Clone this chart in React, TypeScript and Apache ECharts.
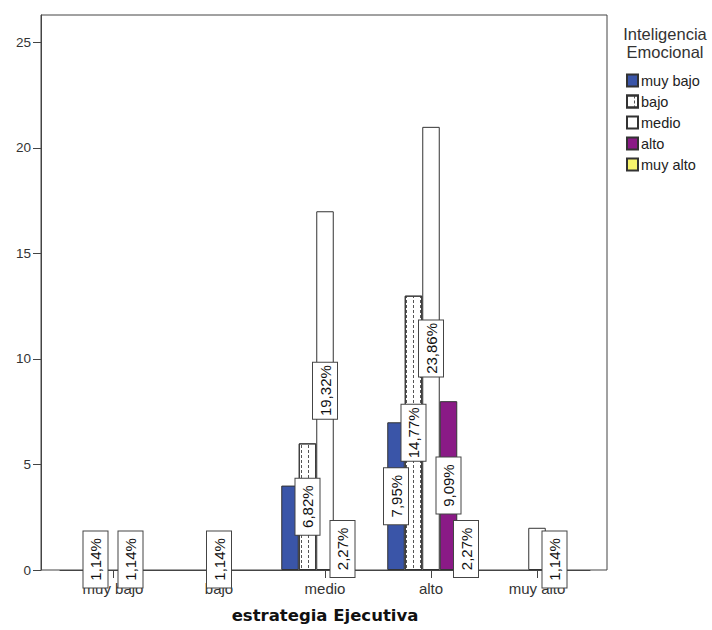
import React, { useEffect, useRef } from "react";
import * as echarts from "echarts";

const categories = ["muy bajo", "bajo", "medio", "alto", "muy alto"];
const seriesNames = ["muy bajo", "bajo", "medio", "alto", "muy alto"];

const muyBajoVals = [null, null, 4, 7, null];
const bajoVals = [1, null, 6, 13, null];
const medioVals = [null, 1, 17, 21, 2];
const altoVals = [1, null, 2, 8, 1];
const muyAltoVals = [null, null, null, 2, null];

const muyBajoLbl = [null, null, null, "7,95%", null];
const bajoLbl = ["1,14%", null, "6,82%", "14,77%", null];
const medioLbl = [null, "1,14%", "19,32%", "23,86%", null];
const altoLbl = ["1,14%", null, "2,27%", "9,09%", "1,14%"];
const muyAltoLbl = [null, null, null, "2,27%", null];

const yTicks = [0, 5, 10, 15, 20, 25];

const FONT = "'Liberation Sans', Arial, sans-serif";

export default function App() {
  const ref = useRef<HTMLDivElement>(null);
  useEffect(() => {
    if (!ref.current) return;
    const chart = echarts.init(ref.current, null, { renderer: "svg" });

    const vals = [muyBajoVals, bajoVals, medioVals, altoVals, muyAltoVals];
    const lbls = [muyBajoLbl, bajoLbl, medioLbl, altoLbl, muyAltoLbl];
    const colors = ["#3a55a8", "#ffffff", "#ffffff", "#8a1a86", "#f7f46c"];

    const labelBase = {
      position: "inside",
      rotate: 90,
      backgroundColor: "#ffffff",
      borderColor: "#444",
      borderWidth: 1,
      padding: [3, 2],
      width: 52,
      height: 18,
      lineHeight: 18,
      fontSize: 15,
      fontFamily: FONT,
      color: "#111",
      align: "center",
      verticalAlign: "middle",
    };

    const series = seriesNames.map((name, si) => {
      const itemStyle: any = {
        color: colors[si],
        borderColor: "#333",
        borderWidth: 1,
      };
      if (si === 1) {
        itemStyle.decal = {
          symbol: "rect",
          symbolSize: 1,
          color: "#555",
          backgroundColor: "#ffffff",
          dashArrayX: [1, 6],
          dashArrayY: [3, 2],
          rotation: 0,
        };
      }
      return {
        name,
        type: "bar",
        xAxisIndex: 0,
        yAxisIndex: 0,
        barWidth: 17.5,
        barGap: "0%",
        itemStyle,
        label: { ...labelBase, show: false },
        data: vals[si].map((v, i) =>
          v == null
            ? "-"
            : {
                value: v,
                label: lbls[si][i]
                  ? { ...labelBase, show: true, formatter: lbls[si][i] }
                  : { show: false },
              }
        ),
      };
    });

    chart.setOption({
      animation: false,
      backgroundColor: "#ffffff",
      grid: [
        { left: 60, width: 530, top: 15, bottom: 60 },
        {
          left: 41,
          right: 105,
          top: 15,
          bottom: 60,
          show: true,
          borderColor: "#444",
          borderWidth: 1,
          backgroundColor: "transparent",
        },
      ],
      xAxis: [
        {
          gridIndex: 0,
          type: "category",
          data: categories,
          axisLine: { show: true, lineStyle: { color: "#444" } },
          axisTick: {
            show: true,
            alignWithLabel: true,
            length: 8,
            interval: 0,
            lineStyle: { color: "#444" },
          },
          axisLabel: {
            interval: 0,
            margin: 11,
            fontSize: 15,
            fontFamily: FONT,
            color: "#333",
          },
          name: "estrategia Ejecutiva",
          nameLocation: "middle",
          nameGap: 37,
          nameTextStyle: {
            fontSize: 16.5,
            fontWeight: "bold",
            fontFamily: "'DejaVu Sans', sans-serif",
            color: "#111",
          },
        },
        { gridIndex: 1, type: "value", show: false, min: 0, max: 1 },
      ],
      yAxis: [
        { gridIndex: 0, type: "value", min: 0, max: 26.3, show: false },
        {
          gridIndex: 1,
          type: "value",
          min: 0,
          max: 26.3,
          interval: 5,
          axisLine: { show: true, lineStyle: { color: "#444" } },
          axisTick: {
            show: true,
            length: 8,
            customValues: yTicks,
            lineStyle: { color: "#444" },
          },
          axisLabel: {
            customValues: yTicks,
            margin: 10,
            fontSize: 13.5,
            fontFamily: FONT,
            color: "#333",
          },
          splitLine: { show: false },
        },
      ],
      legend: {
        orient: "vertical",
        left: 626,
        top: 73,
        padding: 0,
        itemWidth: 11,
        itemHeight: 12,
        itemGap: 6,
        data: seriesNames,
        textStyle: {
          fontSize: 14.5,
          fontFamily: FONT,
          color: "#222",
          padding: [0, 0, 0, -2],
        },
        icon: "rect",
      },
      graphic: [
        {
          type: "text",
          x: 665,
          y: 25,
          style: {
            text: "Inteligencia\nEmocional",
            textAlign: "center",
            fontSize: 16.5,
            lineHeight: 18,
            fontFamily: FONT,
            fill: "#333",
          },
        },
      ],
      series,
    });

    return () => chart.dispose();
  }, []);

  return (
    <div
      ref={ref}
      style={{ position: "fixed", left: 0, top: 0, width: 712, height: 630 }}
    />
  );
}
